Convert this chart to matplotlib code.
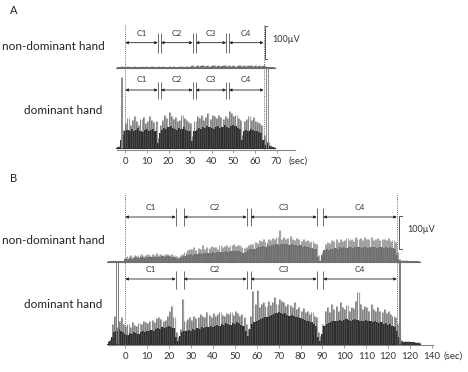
import numpy as np
import matplotlib.pyplot as plt

plt.rcParams['font.family'] = ['Lato', 'DejaVu Sans']

# ---- panel A (0-70 sec), values in uV above each trace baseline ----
t_a = np.arange(-4, 70)
a_dom_band = ([2, 3, 25, 40]
              + [50, 55, 52, 58, 50, 54, 60, 52, 48, 55, 57, 50, 53, 56, 50]
              + [15]
              + [45, 55, 60, 58, 62, 65, 60, 58, 55, 60, 57, 62, 55, 52, 50]
              + [20]
              + [50, 55, 60, 58, 62, 60, 65, 63, 60, 58, 62, 65, 60, 63, 68, 62, 60, 65, 70, 65, 60, 58]
              + [25]
              + [50, 55, 52, 58, 55, 50, 52, 48, 45]
              + [25, 10, 14, 6, 2, 2])
a_dom_peak = ([3, 5, 35, 55]
              + [75, 90, 70, 85, 95, 80, 70, 88, 92, 75, 80, 95, 85, 78, 82]
              + [30]
              + [70, 85, 100, 90, 108, 95, 88, 92, 80, 85, 100, 90, 85, 78, 75]
              + [35]
              + [80, 95, 90, 100, 85, 92, 105, 88, 98, 95, 90, 100, 92, 88, 96, 90, 112, 105, 95, 100, 90, 85]
              + [40]
              + [80, 88, 95, 85, 92, 80, 78, 75, 70]
              + [40, 20, 18, 10, 4, 3])
a_nd_band = ([2, 2, 3, 2, 2, 3, 2, 2, 3, 2, 2, 3, 2, 3, 2, 2, 3, 2, 2, 3, 2, 3, 2, 2, 3, 2, 3, 2, 2, 3, 3, 2, 3, 2]
             + [4, 5, 4, 5, 4, 5, 5, 4, 5, 4, 5, 5, 4, 5, 4, 5, 5, 4, 5, 4, 5, 4, 5, 5, 4, 5, 4, 5, 5, 4, 5, 4, 5, 4, 5]
             + [2, 2, 2, 2, 2])
a_nd_peak = ([4, 4, 5, 4, 4, 5, 4, 4, 5, 4, 4, 5, 4, 5, 4, 4, 5, 4, 4, 5, 4, 5, 4, 4, 5, 4, 5, 4, 4, 5, 5, 4, 5, 4]
             + [7, 8, 7, 8, 7, 8, 8, 7, 8, 7, 8, 8, 7, 8, 7, 8, 9, 7, 8, 7, 8, 7, 8, 9, 7, 8, 7, 8, 8, 7, 8, 7, 9, 7, 8]
             + [4, 3, 3, 3, 3])

# ---- panel B (0-140 sec) ----
t_b = np.arange(-8, 135)
b_dom_band = ([5, 8, 20, 35, 40, 45, 40, 35]
              + [30, 28, 32, 30, 35, 33, 30, 35, 38, 36, 40, 38, 42, 40, 45, 48, 45, 50, 48, 52, 55, 50, 48]
              + [20, 10, 25]
              + [35, 40, 38, 42, 40, 45, 43, 48, 45, 50, 48, 52, 50, 55, 52, 55, 58, 55, 60, 58, 62, 60, 58, 62, 60, 65, 62, 58, 55]
              + [40, 25, 45]
              + [60, 65, 70, 72, 75, 78, 80, 82, 85, 88, 90, 92, 95, 93, 90, 92, 88, 85, 88, 85, 82, 80, 78, 75, 72, 70, 68, 65, 60, 55]
              + [20, 10, 30]
              + [55, 60, 62, 65, 68, 70, 68, 72, 70, 72, 75, 72, 70, 72, 75, 72, 70, 68, 70, 72, 70, 68, 65, 68, 65, 62, 65, 60, 62, 58, 60, 55, 50]
              + [40, 20]
              + [8, 6, 6, 5, 5, 5, 5, 4, 4])
b_dom_peak = ([8, 15, 60, 85, 50, 70, 80, 60]
              + [55, 60, 50, 65, 58, 55, 62, 60, 70, 65, 62, 68, 72, 65, 78, 80, 75, 70, 72, 85, 100, 115, 80]
              + [35, 20, 45]
              + [135, 70, 75, 80, 72, 85, 78, 80, 90, 85, 82, 95, 88, 80, 92, 85, 90, 96, 88, 85, 92, 90, 95, 88, 100, 92, 85, 90, 80]
              + [60, 45, 85]
              + [160, 120, 163, 110, 120, 126, 115, 130, 118, 125, 140, 120, 135, 128, 125, 115, 120, 118, 110, 125, 105, 112, 100, 108, 95, 100, 90, 95, 85, 80]
              + [35, 25, 60]
              + [100, 110, 95, 120, 105, 115, 98, 125, 110, 105, 118, 100, 112, 108, 130, 156, 120, 105, 115, 110, 100, 120, 105, 98, 110, 100, 95, 105, 92, 98, 90, 85, 80]
              + [60, 30]
              + [12, 10, 8, 8, 7, 7, 6, 6, 5])
b_nd_band = ([2, 2, 2, 2, 2, 2, 2, 2]
             + [8, 10, 12, 10, 12, 14, 12, 15, 14, 12, 15, 14, 16, 15, 14, 16, 15, 17, 16, 18, 17, 16, 15]
             + [12, 10, 12, 15]
             + [18, 20, 22, 24, 22, 25, 24, 26, 25, 28, 26, 28, 27, 30, 28, 30, 29, 31, 30, 32, 30, 33, 32, 34, 32, 33, 30, 28]
             + [30, 35, 38]
             + [38, 40, 42, 45, 44, 48, 46, 50, 48, 52, 50, 54, 52, 55, 53, 55, 54, 52, 55, 50, 52, 48, 50, 46, 48, 45, 44, 42, 40, 38]
             + [15, 2, 20]
             + [35, 38, 36, 40, 38, 42, 40, 44, 42, 45, 43, 44, 46, 42, 45, 44, 46, 43, 45, 44, 42, 46, 44, 45, 43, 46, 44, 42, 45, 43, 44, 42, 40]
             + [20, 5]
             + [3, 3, 3, 3, 2, 2, 2, 2, 2])
b_nd_peak = ([4, 4, 4, 4, 4, 4, 4, 4]
             + [15, 18, 20, 16, 22, 18, 20, 24, 19, 22, 25, 20, 23, 21, 26, 22, 24, 20, 23, 25, 22, 24, 20]
             + [18, 15, 20, 25]
             + [30, 35, 38, 40, 45, 36, 42, 38, 50, 40, 45, 42, 48, 44, 46, 40, 50, 45, 48, 52, 46, 50, 55, 48, 52, 50, 45, 42]
             + [45, 50, 55]
             + [55, 60, 58, 65, 62, 68, 60, 70, 65, 72, 68, 75, 96, 70, 75, 68, 72, 78, 70, 65, 72, 68, 64, 70, 62, 66, 60, 62, 58, 55]
             + [20, 5, 30]
             + [55, 60, 58, 65, 62, 68, 60, 70, 62, 65, 72, 66, 70, 64, 75, 68, 72, 65, 76, 70, 68, 74, 66, 70, 72, 65, 70, 68, 66, 72, 64, 65, 60]
             + [30, 8]
             + [5, 5, 5, 4, 4, 4, 3, 3, 3])

for arr in (a_dom_band, a_dom_peak, a_nd_band, a_nd_peak):
    assert len(arr) == len(t_a), len(arr)
for arr in (b_dom_band, b_dom_peak, b_nd_band, b_nd_peak):
    assert len(arr) == len(t_b), len(arr)

# condition markers (sec): end of recording, double bars between conditions
a_end = 64
a_bars = [15, 16.5, 31.2, 32.6, 46.7, 48]
b_end = 124
b_bars = [23, 26.7, 55.4, 57.2, 87.4, 90.4]
cond_labels = ['C1', 'C2', 'C3', 'C4']
a_ticks = [0, 10, 20, 30, 40, 50, 60, 70]
a_ticklabels = ['0', '10', '20', '30', '40', '50', '60', '70']
b_ticks = [0, 10, 20, 30, 40, 50, 60, 70, 80, 90, 100, 110, 120, 130, 140]
b_ticklabels = ['0', '10', '20', '30', '40', '50', '60', '70', '80', '90',
                '100', '110', '120', '120', '140']

W, H = 468, 372
fig = plt.figure(figsize=(W / 100, H / 100), dpi=100)


def make_axes(top_px, axis_px, x0_px, px_per_sec):
    ax = fig.add_axes([100 / W, 1 - axis_px / H, 340 / W, (axis_px - top_px) / H])
    ax.set_xlim((100 - x0_px) / px_per_sec, (440 - x0_px) / px_per_sec)
    ax.set_ylim(0, (axis_px - top_px) * 3.0)  # 100 uV = 33 px
    for s in ('top', 'right', 'left'):
        ax.spines[s].set_visible(False)
    ax.spines['bottom'].set_color('#8a8a8a')
    ax.spines['bottom'].set_linewidth(0.8)
    ax.set_yticks([])
    ax.patch.set_alpha(0)
    return ax


def draw_trace(ax, t, band, peak, base, c_band, c_peak, c_mid):
    t = np.asarray(t)
    peak = np.asarray(peak)
    ax.vlines(t + 0.5, base, base + peak, color=c_peak, lw=0.9, zorder=1)
    ax.fill_between(t, base, base + np.asarray(band), step='mid', color=c_band,
                    lw=0, zorder=2)
    ax.vlines(t, base, base + peak, color=c_mid, lw=0.5, zorder=2)
    ax.plot([t[0] - 0.5, t[-1] + 0.5], [base, base], color=c_band, lw=0.8, zorder=2)


def draw_conditions(ax, y_arrow, y_bar0, y_bar1, y_lab, end, bars):
    edges = [0] + list(bars) + [end]
    for i in range(4):
        x0, x1 = edges[2 * i], edges[2 * i + 1]
        ax.annotate('', xy=(x1, y_arrow), xytext=(x0, y_arrow),
                    arrowprops=dict(arrowstyle='<|-|>', lw=0.6, color='#222222',
                                    mutation_scale=4, shrinkA=0, shrinkB=0))
        ax.text((x0 + x1) / 2, y_lab, cond_labels[i], ha='center', va='center',
                fontsize=6, color='#333333')
    ax.vlines(bars, y_bar0, y_bar1, color='#555555', lw=0.6)


def draw_axis(ax, ticks, labels, lo, hi, sec_x):
    ax.spines['bottom'].set_bounds(lo, hi)
    ax.set_xticks(ticks)
    ax.set_xticklabels(labels)
    ax.tick_params(axis='x', length=2.5, width=0.6, color='#8a8a8a', pad=2.5,
                   labelsize=7, labelcolor='#333333')
    ax.annotate('(sec)', xy=(sec_x, 0), xytext=(0, -5), textcoords='offset points',
                ha='left', va='top', fontsize=7, color='#333333', annotation_clip=False)


def scale_bar(ax, x, y0, y1, cap):
    ax.plot([x + cap, x, x, x + cap], [y0, y0, y1, y1], color='#555555', lw=0.7)
    ax.text(x + cap + 2.5, (y0 + y1) / 2 + 8, '100\u00b5V', ha='left', va='center',
            fontsize=6.5, color='#333333')


# panel A
axA = make_axes(15, 150, 125.3, 2.16)
draw_trace(axA, t_a, a_dom_band, a_dom_peak, 6, '#2e2e2e', '#a4a4a4', '#555555')
draw_trace(axA, t_a, a_nd_band, a_nd_peak, 246, '#6a6a6a', '#9a9a9a', '#7a7a7a')
axA.vlines([-2.0, -1.3], 6, 219, color='#8a8a8a', lw=0.7)
axA.vlines([65.2, 65.9], 6, 246, color='#8a8a8a', lw=0.7)
axA.vlines([0, a_end], 0, 375, color='#666666', lw=0.7, linestyles=(0, (1, 1.2)), zorder=3)
draw_conditions(axA, 322, 292, 351, 351, a_end, a_bars)
draw_conditions(axA, 180, 153, 204, 210, a_end, a_bars)
scale_bar(axA, 64.6, 273, 372, 1.0)
draw_axis(axA, a_ticks, a_ticklabels, -4, 78.5, 75.5)

# panel B
axB = make_axes(185, 345, 125.3, 2.19)
draw_trace(axB, t_b, b_dom_band, b_dom_peak, 3, '#2e2e2e', '#a4a4a4', '#555555')
draw_trace(axB, t_b, b_nd_band, b_nd_peak, 249, '#6e6e6e', '#a6a6a6', '#808080')
axB.vlines([-4.4, -3.4], 3, 249, color='#7a7a7a', lw=0.7)
axB.vlines([124.8, 125.6], 3, 249, color='#7a7a7a', lw=0.7)
axB.vlines([0, b_end], 0, 456, color='#666666', lw=0.7, linestyles=(0, (1, 1.2)), zorder=3)
draw_conditions(axB, 384, 357, 411, 414, b_end, b_bars)
draw_conditions(axB, 198, 168, 222, 228, b_end, b_bars)
scale_bar(axB, 125.2, 288, 387, 1.0)
draw_axis(axB, b_ticks, b_ticklabels, -8, 140.4, 145.2)

# row labels and panel letters
fig.text(10 / W, 1 - 10 / H, 'A', fontsize=8, ha='left', va='center', color='#222222')
fig.text(10 / W, 1 - 178 / H, 'B', fontsize=8, ha='left', va='center', color='#222222')
fig.text(53 / W, 1 - 47 / H, 'non-dominant hand', fontsize=8.5, ha='center', va='center', color='#222222')
fig.text(102 / W, 1 - 111 / H, 'dominant hand', fontsize=8.5, ha='right', va='center', color='#222222')
fig.text(53 / W, 1 - 241 / H, 'non-dominant hand', fontsize=8.5, ha='center', va='center', color='#222222')
fig.text(102 / W, 1 - 304 / H, 'dominant hand', fontsize=8.5, ha='right', va='center', color='#222222')

fig.savefig('out.png', dpi=100)
